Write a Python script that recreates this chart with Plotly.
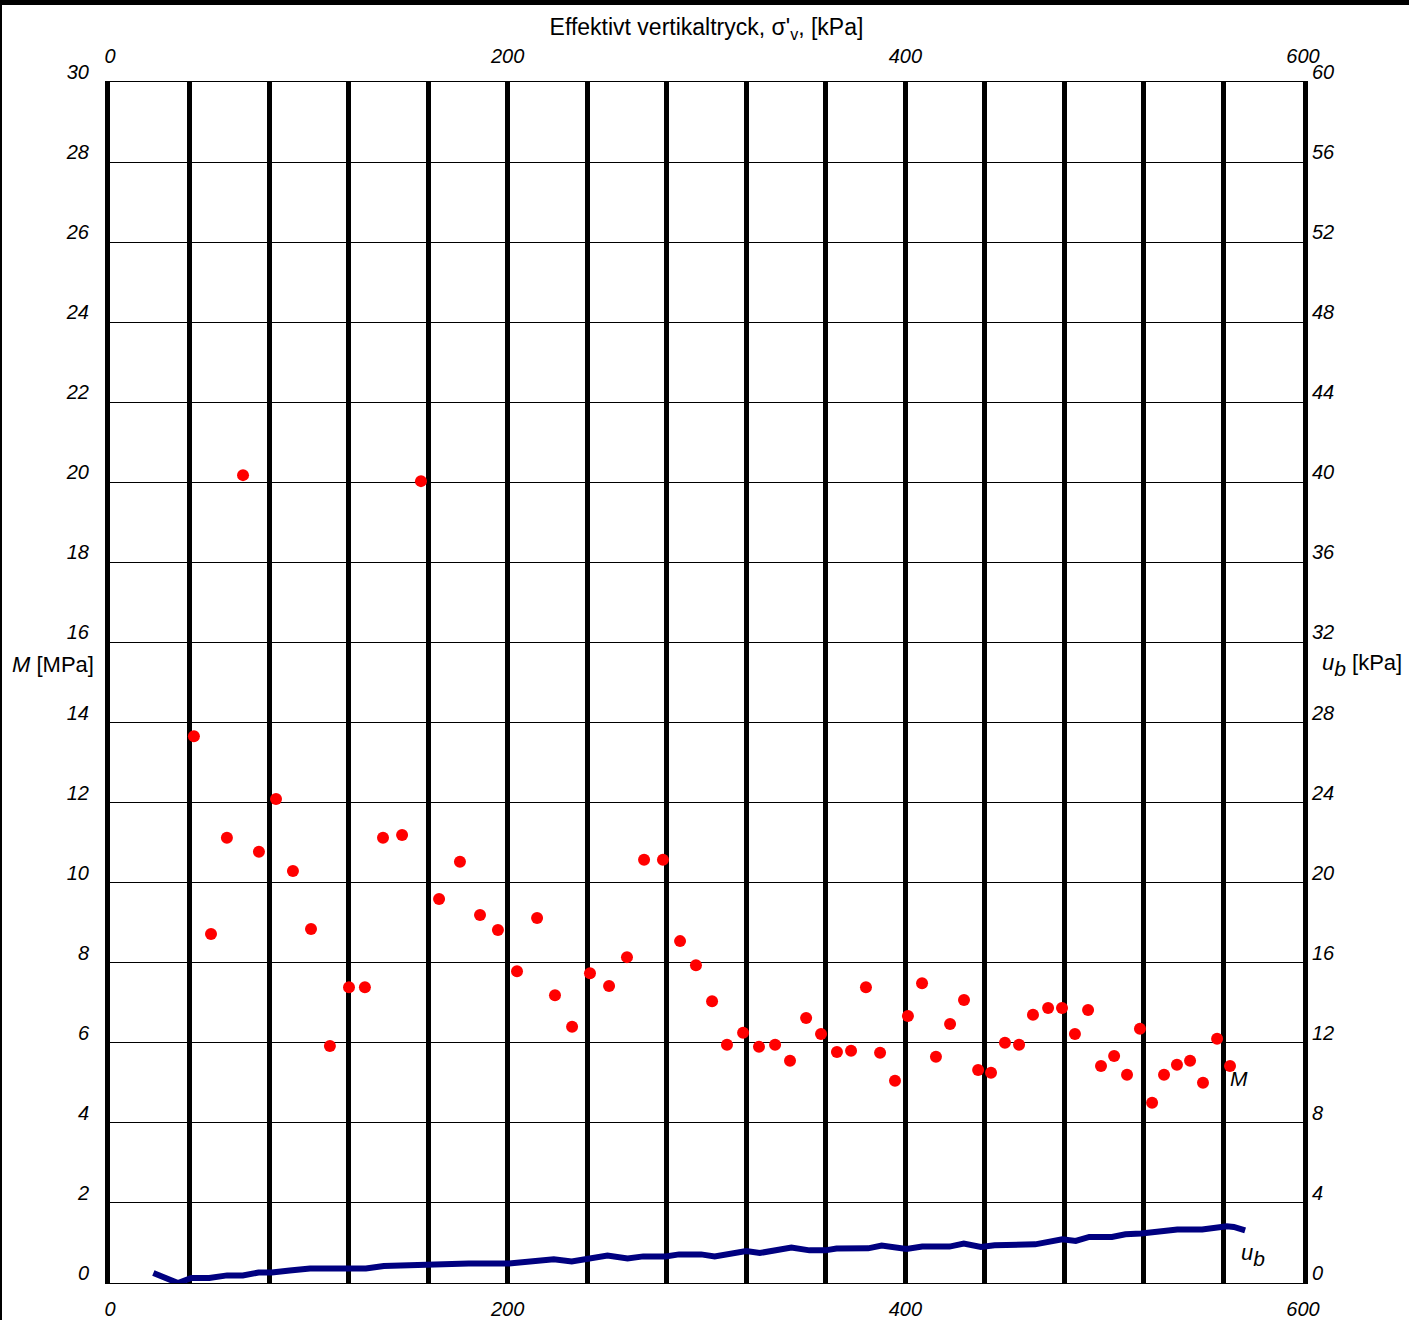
import plotly.graph_objects as go

# Effective vertical stress (kPa) for modulus points
m_sigma = [42.2, 50.8, 58.8, 66.9, 74.9, 83.5, 92.0, 101.1, 110.6, 120.2, 128.2, 137.3, 146.9,
           156.4, 165.5, 176.0, 186.1, 195.1, 204.7, 214.8, 223.8, 232.4, 241.4, 251.0, 260.0,
           268.6, 278.1, 286.7, 294.7, 302.8, 310.3, 318.4, 326.4, 334.5, 342.0, 350.1, 357.6,
           365.6, 372.7, 380.2, 387.3, 394.8, 401.3, 408.4, 415.4, 422.5, 429.5, 436.6, 443.1,
           450.1, 457.2, 464.2, 471.8, 478.8, 485.3, 491.9, 498.4, 505.0, 511.5, 518.0, 524.1,
           530.1, 536.6, 543.2, 549.7, 556.8, 563.3]
# Modulus M (MPa)
m_values = [13.66, 8.72, 11.12, 20.18, 10.77, 12.09, 10.29, 8.84, 5.92, 7.39, 7.39, 11.12, 11.19,
            20.03, 9.59, 10.52, 9.19, 8.82, 7.79, 9.12, 7.19, 6.40, 7.74, 7.42, 8.14,
            10.57, 10.57, 8.54, 7.94, 7.04, 5.95, 6.25, 5.90, 5.95, 5.55, 6.62, 6.22,
            5.77, 5.80, 7.39, 5.75, 5.05, 6.67, 7.49, 5.65, 6.47, 7.07, 5.32, 5.25,
            6.00, 5.95, 6.70, 6.87, 6.87, 6.22, 6.82, 5.42, 5.67, 5.20, 6.35, 4.50,
            5.20, 5.45, 5.55, 5.00, 6.10, 5.42]

# Pore pressure u_b (kPa)
u_sigma = [21.8, 34.2, 40.9, 49.9, 58.9, 66.8, 74.7, 81.4, 90.4, 100.6, 110.7, 119.7, 128.7,
           137.7, 146.7, 157.9, 166.9, 180.4, 200.7, 207.4, 223.2, 232.2, 241.2, 250.2, 260.3,
           268.2, 279.4, 286.2, 297.3, 304.1, 320.0, 326.8, 342.7, 351.8, 359.7, 365.4, 381.3,
           388.1, 400.6, 408.5, 422.2, 429.4, 438.0, 444.9, 465.3, 472.1, 478.9, 485.7, 492.5,
           503.9, 510.7, 518.6, 524.3, 528.8, 536.8, 549.3, 556.1, 561.7, 565.2, 570.9]
u_values = [0.50, 0.0, 0.25, 0.25, 0.38, 0.38, 0.52, 0.52, 0.62, 0.72, 0.72, 0.75, 0.72,
            0.85, 0.88, 0.88, 0.97, 0.97, 0.97, 1.02, 1.18, 1.07, 1.22, 1.37, 1.22,
            1.33, 1.33, 1.43, 1.43, 1.33, 1.60, 1.50, 1.77, 1.63, 1.63, 1.72, 1.73,
            1.87, 1.70, 1.82, 1.82, 1.97, 1.80, 1.88, 1.93, 2.02, 2.18, 2.10, 2.30,
            2.30, 2.43, 2.47, 2.55, 2.57, 2.67, 2.67, 2.77, 2.83, 2.80, 2.63]

x_ticks = [0, 200, 400, 600]
m_ticks = list(range(0, 31, 2))
u_ticks = list(range(0, 61, 4))

FONT = "Liberation Sans, Arial, sans-serif"
W, H = 1409, 1320
L, R, T, B = 110, 106, 82, 37

fig = go.Figure()
fig.add_trace(go.Scatter(x=m_sigma, y=m_values, mode="markers",
                         marker=dict(color="#ff0000", size=12, line=dict(width=0)),
                         xaxis="x", yaxis="y", showlegend=False))
fig.add_trace(go.Scatter(x=u_sigma, y=u_values, mode="lines",
                         line=dict(color="#000080", width=6),
                         xaxis="x", yaxis="y2", showlegend=False))
fig.add_trace(go.Scatter(x=[], y=[], xaxis="x2", yaxis="y", showlegend=False))

tickfont = dict(family=FONT, size=20, color="black", style="italic")

fig.update_layout(
    width=W, height=H, autosize=False,
    margin=dict(l=L, r=R, t=T, b=B, pad=0, autoexpand=False),
    plot_bgcolor="white", paper_bgcolor="white",
    font=dict(family=FONT, color="black"),
    xaxis=dict(range=[0, 600], tickvals=x_ticks, ticks="", showgrid=True,
               gridcolor="black", gridwidth=5,
               minor=dict(dtick=40, showgrid=True, gridcolor="black", gridwidth=5),
               showline=True, linecolor="black", linewidth=1, mirror=True,
               zeroline=False, tickfont=tickfont, ticklabelstandoff=8),
    xaxis2=dict(range=[0, 600], tickvals=x_ticks, ticks="", overlaying="x", side="top",
                anchor="y", showgrid=False, zeroline=False, tickfont=tickfont,
                ticklabelstandoff=14,
                title=dict(text="Effektivt vertikaltryck, σ'<sub>v</sub>, [kPa]",
                           font=dict(family=FONT, size=23, color="black"), standoff=2)),
    yaxis=dict(range=[0, 30], tickvals=m_ticks, ticks="", showgrid=True,
               gridcolor="black", gridwidth=1, zeroline=False,
               showline=True, linecolor="black", linewidth=5,
               tickfont=tickfont, ticklabelshift=-10, ticklabelstandoff=12),
    yaxis2=dict(range=[0, 60], tickvals=u_ticks, ticks="", overlaying="y", side="right",
                anchor="x", showgrid=False, zeroline=False,
                showline=True, linecolor="black", linewidth=5,
                tickfont=tickfont, ticklabelshift=-10, ticklabelstandoff=0),
)

SUB = "<span style='font-size:30px'><sub>b</sub></span>"
fig.add_annotation(x=-0.0478, y=0.5146, xref="paper", yref="paper", showarrow=False,
                   xanchor="center", yanchor="middle",
                   text="<i>M</i> [MPa]", font=dict(family=FONT, size=22, color="black"))
fig.add_annotation(x=1.0494, y=0.5146, xref="paper", yref="paper", showarrow=False,
                   xanchor="center", yanchor="middle",
                   text="<i>u" + SUB + "</i> [kPa]", font=dict(family=FONT, size=22, color="black"))
fig.add_annotation(x=562.5, y=5.1, xref="x", yref="y", showarrow=False, xanchor="left",
                   text="<i>M</i>", font=dict(family=FONT, size=21, color="black"))
fig.add_annotation(x=568, y=1.4, xref="x", yref="y2", showarrow=False, xanchor="left",
                   text="<i>u" + SUB + "</i>", font=dict(family=FONT, size=22, color="black"))

# image frame: thick top band and thin left edge
pw, ph = W - L - R, H - T - B
fig.add_shape(type="rect", xref="paper", yref="paper",
              x0=-L / pw, x1=(W - L) / pw, y0=(H - B - 5) / ph, y1=(H - B) / ph,
              fillcolor="black", line=dict(width=0), layer="above")
fig.add_shape(type="rect", xref="paper", yref="paper",
              x0=-L / pw, x1=(2 - L) / pw, y0=-B / ph, y1=(H - B) / ph,
              fillcolor="black", line=dict(width=0), layer="above")

fig.write_html("out.html", config={"responsive": False, "displayModeBar": False},
               post_script="document.body.style.margin='0';document.body.style.overflow='hidden';")
